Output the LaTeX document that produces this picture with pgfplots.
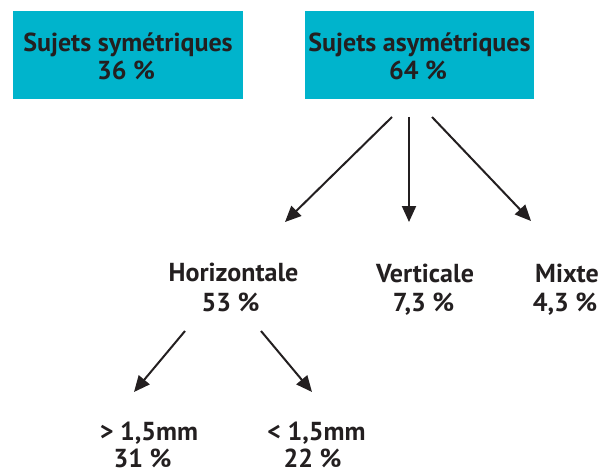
\documentclass[border=0pt]{standalone}
\usepackage{pgfplots}
\pgfplotsset{compat=1.18}
\usepackage{fontspec}
\setmainfont{PT Sans}
\usetikzlibrary{arrows.meta}
\definecolor{boxcyan}{HTML}{00B4CC}
\definecolor{txt}{HTML}{231F20}
\begin{document}
\begin{tikzpicture}
\begin{axis}[
  scale only axis, width=609bp, height=474bp,
  xmin=0, xmax=609, ymin=0, ymax=474, y dir=reverse,
  hide axis, clip=false,
]
\path (rel axis cs:0,0) rectangle (rel axis cs:1,1);
% boxes
\addplot[fill=boxcyan, draw=none] coordinates {(13,11) (243,11) (243,99) (13,99)};
\addplot[fill=boxcyan, draw=none] coordinates {(305,11) (534,11) (534,99) (305,99)};
% arrows
\addplot[txt, line width=2bp, -{Triangle[length=16bp,width=14bp]}] coordinates {(392,117) (285,222)};
\addplot[txt, line width=2bp, -{Triangle[length=16bp,width=14bp]}] coordinates {(409,117) (409,222)};
\addplot[txt, line width=2bp, -{Triangle[length=16bp,width=14bp]}] coordinates {(432,117) (531,221)};
\addplot[txt, line width=2bp, -{Triangle[length=16bp,width=14bp]}] coordinates {(185,331) (134,392)};
\addplot[txt, line width=2bp, -{Triangle[length=16bp,width=14bp]}] coordinates {(261,331) (312,392)};
% labels
\tikzset{lab/.style={anchor=base, inner sep=0pt, text=txt, font=\fontsize{26bp}{27bp}\selectfont\bfseries}}
\node[lab] at (axis cs:128,52) {Sujets symétriques};
\node[lab] at (axis cs:126,80) {36 \%};
\node[lab] at (axis cs:419.5,52) {Sujets asymétriques};
\node[lab] at (axis cs:418,80) {64 \%};
\node[lab] at (axis cs:233.5,281) {Horizontale};
\node[lab] at (axis cs:230.5,311) {53 \%};
\node[lab] at (axis cs:425,282) {Verticale};
\node[lab] at (axis cs:423.5,311) {7,3 \%};
\node[lab] at (axis cs:567,282) {Mixte};
\node[lab] at (axis cs:565,311) {4,3 \%};
\node[lab] at (axis cs:149,440) {> 1,5mm};
\node[lab] at (axis cs:142.5,467) {31 \%};
\node[lab] at (axis cs:316.5,440) {< 1,5mm};
\node[lab] at (axis cs:312.5,467) {22 \%};
\end{axis}
\end{tikzpicture}
\end{document}
